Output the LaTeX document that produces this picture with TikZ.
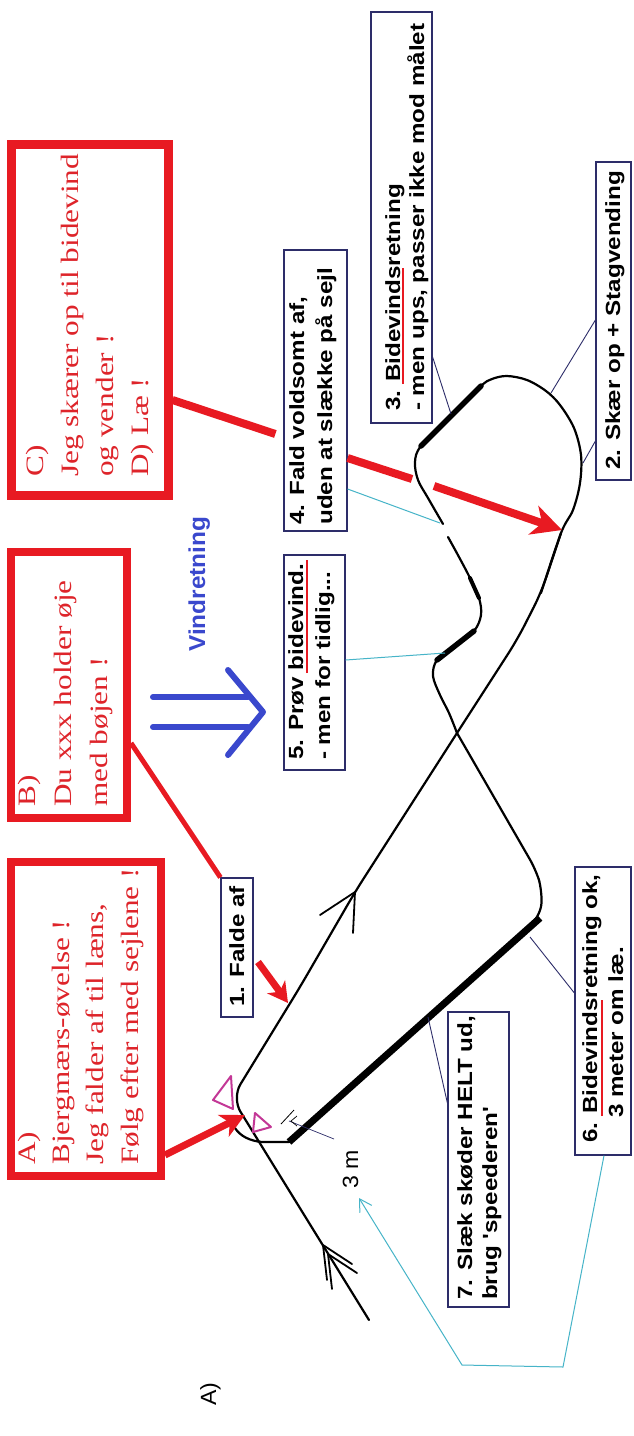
\documentclass[tikz,border=0pt]{standalone}
\usepackage{fontspec}
\setmainfont{Liberation Serif}
\newfontfamily\sansfam{Liberation Sans}
\usetikzlibrary{arrows.meta,calc}
\definecolor{boxred}{RGB}{232,26,34}
\definecolor{txtred}{RGB}{222,36,42}
\definecolor{windblue}{RGB}{58,72,205}
\definecolor{navy}{RGB}{45,45,105}
\definecolor{tealc}{RGB}{70,180,200}
\definecolor{boatc}{RGB}{195,55,150}
\newcommand\serifsz{\fontsize{25}{35}\selectfont}
\newcommand\labsz{\sansfam\bfseries\fontsize{20.5}{25}\selectfont}
\newcommand\plainsz{\sansfam\fontsize{22}{24}\selectfont}
\newcommand\windsz{\sansfam\bfseries\fontsize{23}{25}\selectfont}
\begin{document}
\begin{tikzpicture}[x=1pt,y=-1pt,
  redbox/.style={draw=boxred, line width=9pt, inner sep=0pt},
  lab/.style={draw=navy, line width=1.2pt, fill=white, inner sep=0pt},
  st/.style={font=\serifsz, text=txtred, rotate=90, xscale=1.25, anchor=base west, inner sep=0pt},
  lt/.style={font=\labsz, rotate=90, xscale=1.18, anchor=base west, inner sep=0pt},
  pt/.style={font=\plainsz, rotate=90, xscale=1.05, anchor=base west, inner sep=0pt},
  wt/.style={font=\windsz, text=windblue, rotate=90, xscale=1.06, anchor=base west, inner sep=0pt},
  course/.style={line width=2.2pt, line join=round, line cap=round},
  heavy/.style={line width=5.5pt, line cap=round},
  ptr/.style={draw=navy, line width=0.9pt},
  cptr/.style={draw=tealc, line width=1pt},
  redline/.style={draw=boxred, line width=8pt},
  redarr/.style={draw=boxred, line width=8pt, -{Stealth[length=30pt,width=30pt,inset=9pt]}},
  windline/.style={draw=windblue, line width=6pt, line cap=round, line join=round},
  boat/.style={draw=boatc, line width=2pt, line join=round},
  uline/.style={draw=boxred, line width=2.5pt}
 ]
\fill[white] (0,0) rectangle (633,1436);
\useasboundingbox (0,0) rectangle (633,1436);

% red boxes
\node[redbox, minimum width=157pt, minimum height=351pt] (Cbox) at (89.5,319.5) {};
\node[redbox, line width=8pt, minimum width=116pt, minimum height=266pt] (Bbox) at (69,685) {};
\node[redbox, line width=8pt, minimum width=150pt, minimum height=314pt] (Abox) at (86,1019) {};

% label boxes
\node[lab, minimum width=32pt, minimum height=139pt] (L1) at (237,947.5) {};
\node[lab, minimum width=35pt, minimum height=318pt] (L2) at (613.5,321) {};
\node[lab, minimum width=61pt, minimum height=411pt] (L3) at (401.5,217.5) {};
\node[lab, minimum width=63pt, minimum height=281pt] (L4) at (315.5,390.5) {};
\node[lab, minimum width=61pt, minimum height=215pt] (L5) at (314.5,662.5) {};
\node[lab, minimum width=56pt, minimum height=288pt] (L6) at (603,1011) {};
\node[lab, minimum width=61pt, minimum height=295pt] (L7) at (478.5,1159.5) {};

% red box texts
\node[st] (tC1) at (43,477) {C)};
\node[st] (tC2) at (78,477) {Jeg skærer op til bidevind};
\node[st] (tC3) at (113,477) {og vender !};
\node[st] (tC4) at (148,477) {D) Læ !};
\node[st] (tB1) at (35,807) {B)};
\node[st] (tB2) at (71,807) {Du xxx holder øje};
\node[st] (tB3) at (107,807) {med bøjen !};
\node[st] (tA1) at (35,1165) {A)};
\node[st] (tA2) at (69,1165) {Bjergmærs-øvelse !};
\node[st] (tA3) at (103,1165) {Jeg falder af til læns,};
\node[st] (tA4) at (138,1165) {Følg efter med sejlene !};

% label texts
\node[lt] (t1) at (244,1007) {1. Falde af};
\node[lt] (t2) at (620,470) {2. Skær op + Stagvending};
\node[lt] (t3a) at (400,411) {3. Bidevindsretning};
\node[lt] (t3b) at (424,411) {- men ups, passer ikke mod målet};
\node[lt] (t4a) at (304,525) {4. Fald voldsomt af,};
\node[lt] (t4b) at (332,525) {uden at slække på sejl};
\node[lt] (t5a) at (303,760) {5. Prøv bidevind.};
\node[lt] (t5b) at (330,760) {- men for tidlig...};
\node[lt] (t6a) at (597,1143) {6. Bidevindsretning ok,};
\node[lt] (t6b) at (623,1118) {3 meter om læ.};
\node[lt] (t7a) at (472,1300) {7. Slæk skøder HELT ud,};
\node[lt] (t7b) at (497,1300) {brug \textquotesingle speederen\textquotesingle};
\node[wt] (wind) at (205,652) {Vindretning};
\node[pt] (m3) at (358,1189) {3 m};
\node[pt] (capA) at (216,1406) {A)};

% underlines
\draw[uline] (403,384) -- (403,268);
\draw[uline] (602,1116) -- (602,1000);
\draw[uline] (307,673) -- (307,560);

% course coordinates
\coordinate (tail) at (369,1320);
\coordinate (apex) at (232,1098);
\coordinate (b3m) at (289,1142);
\coordinate (c2a) at (551,393);
\coordinate (c2b) at (583,463);
\coordinate (c3) at (451,414);
\coordinate (c4) at (440,523);
\coordinate (c5) at (445,653);
\coordinate (c6) at (530,937);
\coordinate (c7) at (428,1017);
\coordinate (m3tip) at (359,1198);

% course
\draw[course, rounded corners=16pt] (tail) -- (apex) -- (300,987) -- (355,892) -- (457,733) -- (517,640) -- (541,593) -- (561,533);
\draw[course] plot[smooth, tension=0.55] coordinates {(541,593) (561,533) (573,510) (580,483) (581,455) (574,428) (560,405) (546,391) (527,380) (507,376) (492,379) (481,386) (451,416) (421,446) (415,462) (418,480) (428,498) (443,524)};
\draw[course] plot[smooth, tension=0.55] coordinates {(448,537) (459,557) (470,578) (479,598) (481,615) (474,631) (455,646) (437,660) (433,676) (440,695) (449,713) (457,733)};
\draw[course, rounded corners=12pt] (457,733) -- (536,870) -- (542,890) -- (541,915) -- (b3m);
\draw[course] (b3m) -- (262,1142) .. controls (250,1141) and (240,1136) .. (235,1128);
\draw[heavy] (481,386) -- (421,446);
\draw[heavy, line width=4pt] (470,578) -- (479,598);
\draw[heavy] (474,631) -- (437,660);
\draw[line width=7pt] (540,918) -- (b3m);

% direction chevrons
\draw[course, line width=1.8pt] (320,915) -- (355,892) -- (353,933);
\draw[course, line width=1.8pt] (327,1280) -- (323,1245) -- (352,1264);
\draw[course, line width=1.8pt] (332,1289) -- (328,1254) -- (357,1273);

% boats
\draw[boat] (213,1100) -- (231,1076) -- (233,1109) -- cycle;
\draw[boat] (255,1113) -- (271,1127) -- (253,1132) -- cycle;

% 3 m measure
\draw[navy, line width=0.7pt] (289,1121) -- (334,1139);
\draw[line width=0.8pt] (281,1124) -- (294,1110);
\draw[line width=0.7pt] (297,1116) -- (291,1121) -- (297,1126);

% red connectors
\coordinate (rg1) at (412,479);
\coordinate (rg2) at (434,486);
\coordinate (rtip) at (562,530);
\draw[redline] (Cbox.east |- 0,400) -- ($(L4.west |- 0,434)+(-8,0)$);
\draw[redline] (L4.east |- 0,458) -- (rg1);
\draw[redarr] (rg2) -- (rtip);
\draw[redline, line width=5pt] (Bbox.east |- 0,743) -- (L1.north west);
\coordinate (fa1) at (258,962);
\coordinate (fa2) at (288,1003);
\draw[redarr, line width=7pt, -{Stealth[length=20pt,width=22pt,inset=6pt]}] (fa1) -- (fa2);
\coordinate (apexR) at (245,1115);
\draw[redarr, line width=7pt, -{Stealth[length=24pt,width=24pt,inset=7pt]}] (Abox.east |- 0,1155) -- (apexR);

% wind arrow
\draw[windline] (153,697) -- (248,697);
\draw[windline] (153,727) -- (248,727);
\draw[windline] (228,670) -- (263,712) -- (228,755);

% pointers
\draw[ptr] (L3.east |- 0,357) -- (c3);
\draw[ptr] (L2.west |- 0,320) -- (c2a);
\draw[ptr] (L2.west |- 0,441) -- (c2b);
\draw[cptr] (L4.east |- 0,489) -- (c4);
\draw[cptr] (L5.east |- 0,660) -- (c5);
\draw[ptr] (L6.west |- 0,993) -- (c6);
\draw[ptr] (L7.west |- 0,1103) -- (c7);
\draw[cptr, -{Straight Barb[length=12pt,width=14pt]}] (L6.south -| 604,0) -- (563,1367) -- (462,1365) -- (m3tip);
\end{tikzpicture}
\end{document}
